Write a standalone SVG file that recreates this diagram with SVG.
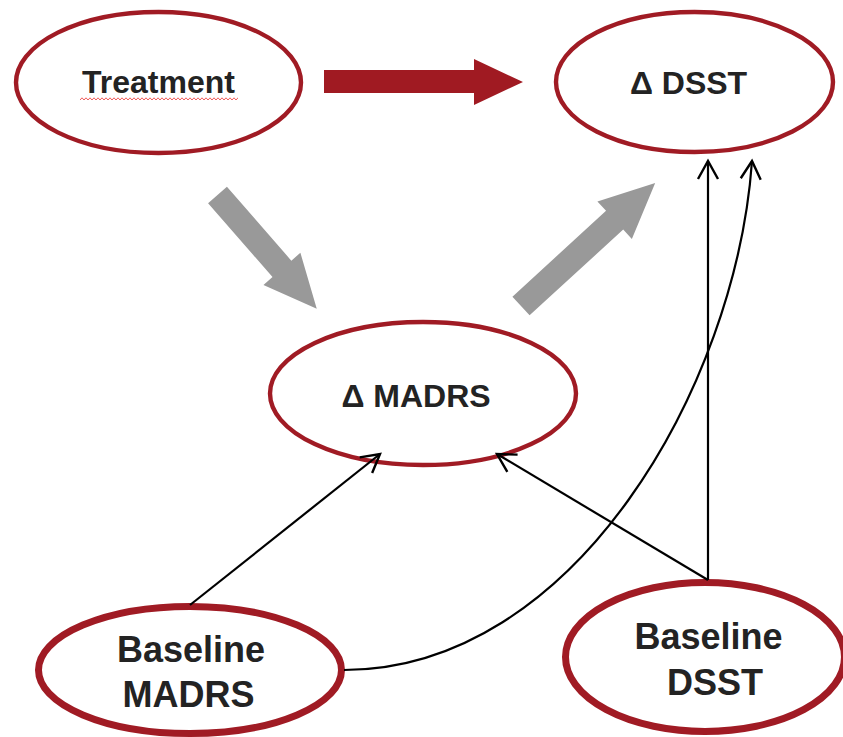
<svg xmlns="http://www.w3.org/2000/svg" width="843" height="737" viewBox="0 0 843 737">
  <style>
    .node { fill: #ffffff; stroke: #a01b24; }
    .thin { stroke-width: 4.4; }
    .thick { stroke-width: 7; }
    .label { font-family: "Liberation Sans", Arial, sans-serif; font-weight: bold; fill: #232323; text-anchor: middle; }
    .small { font-size: 32px; }
    .big { font-size: 36px; }
    .link { fill: none; stroke: #000000; stroke-width: 2.2; marker-end: url(#open-arrow); }
    .flow-gray { fill: #999999; }
    .flow-red { fill: #a01a22; }
  </style>
  <defs>
    <!-- open V arrowhead, drawn in user units so it does not scale with the line width -->
    <marker id="open-arrow" markerUnits="userSpaceOnUse" markerWidth="40" markerHeight="40" refX="0" refY="0" orient="auto" overflow="visible">
      <path d="M-18,-10 L0,0 L-18,10" fill="none" stroke="#000000" stroke-width="2.4" stroke-linejoin="miter"/>
    </marker>
    <!-- spell-check style wavy underline -->
    <pattern id="squiggle" width="4" height="4" patternUnits="userSpaceOnUse" x="80" y="97">
      <path d="M0,3 L2,0.8 L4,3" fill="none" stroke="#ef5b5b" stroke-width="1"/>
    </pattern>
  </defs>

  <!-- block arrows -->
  <g id="block-arrows">
    <polygon class="flow-red" points="324,70 474,70 474,59 523,82 474,105 474,93 324,93"/>
    <polygon class="flow-gray" transform="translate(217.5,195) rotate(48.9)" points="0,-12.5 98,-12.5 98,-24.5 151,0 98,24.5 98,12.5 0,12.5"/>
    <polygon class="flow-gray" transform="translate(521,306) rotate(-42.5)" points="0,-12.7 127,-12.7 127,-25.5 182,0 127,25.5 127,12.7 0,12.7"/>
  </g>

  <g id="treatment">
    <ellipse class="node thin" cx="158.5" cy="82.5" rx="142.5" ry="70.5"/>
    <text class="label small" x="158.5" y="93">Treatment</text>
    <rect x="80" y="97" width="158" height="4" fill="url(#squiggle)"/>
  </g>

  <g id="delta-dsst">
    <ellipse class="node thin" cx="694.5" cy="82" rx="138.5" ry="70"/>
    <text class="label small" x="688.5" y="94">Δ DSST</text>
  </g>

  <g id="delta-madrs">
    <ellipse class="node thin" cx="423" cy="393.5" rx="153" ry="71.5"/>
    <text class="label small" x="416" y="407">Δ MADRS</text>
  </g>

  <g id="baseline-madrs">
    <ellipse class="node thick" cx="190" cy="670" rx="151.5" ry="63.5"/>
    <text class="label big" x="191" y="662">Baseline</text>
    <text class="label big" x="188.5" y="707">MADRS</text>
  </g>

  <g id="baseline-dsst">
    <ellipse class="node thick" cx="705" cy="657" rx="139.5" ry="74.5"/>
    <text class="label big" x="708.5" y="649">Baseline</text>
    <text class="label big" x="715" y="695">DSST</text>
  </g>

  <!-- connectors, drawn last so the arrowheads sit on top of the ellipse outlines -->
  <g id="connectors">
    <line class="link" x1="190" y1="605" x2="380" y2="454"/>
    <line class="link" x1="708" y1="580" x2="497" y2="454"/>
    <line class="link" x1="708" y1="580" x2="708" y2="161"/>
    <path class="link" d="M344,670 C574,670 736,387 752,161"/>
  </g>
</svg>
